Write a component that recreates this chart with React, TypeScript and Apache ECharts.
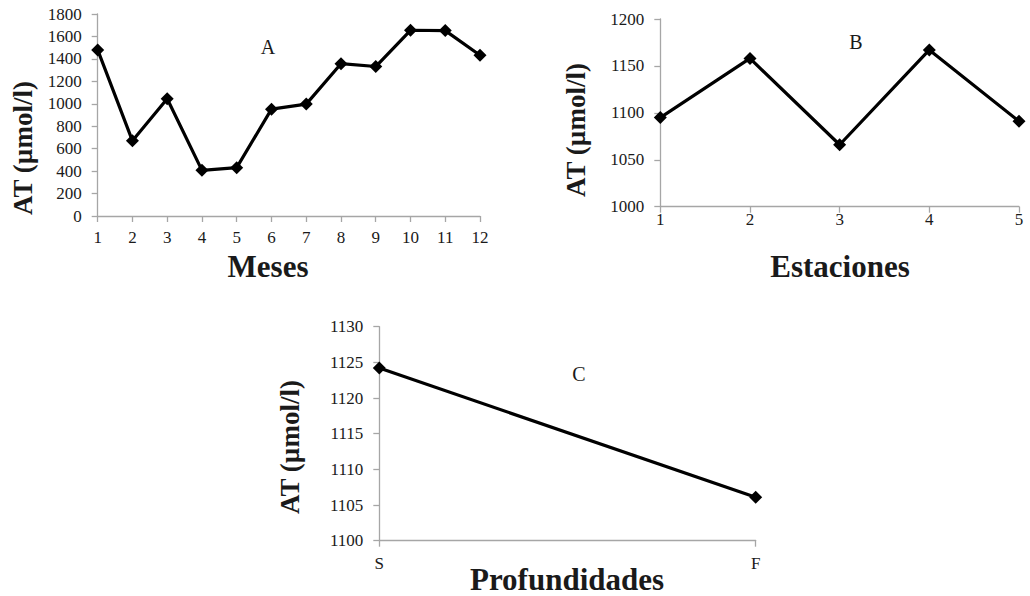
import React, { useEffect, useRef } from "react";
import * as echarts from "echarts";

const mesesCats = ["1", "2", "3", "4", "5", "6", "7", "8", "9", "10", "11", "12"];
const mesesVals = [1480, 670, 1045, 407, 431, 952, 997, 1357, 1332, 1655, 1652, 1432];

const estCats = ["1", "2", "3", "4", "5"];
const estVals = [1095, 1158, 1066, 1167, 1091];

const profCats = ["S", "F"];
const profVals = [1124.2, 1106.1];

const yTitle = "AT (µmol/l)";
const FONT = "'Liberation Serif', 'Times New Roman', serif";
const AXIS_COLOR = "#a6a6a6";
const TEXT_COLOR = "#1a1a1a";

function makeAxes(idx: number, cats: string[], min: number, max: number, interval: number, xMargin: number) {
  const x = {
    type: "category",
    gridIndex: idx,
    data: cats,
    boundaryGap: false,
    axisLine: { lineStyle: { color: AXIS_COLOR, width: 1.3 } },
    axisTick: { show: true, alignWithLabel: true, length: 6, lineStyle: { color: AXIS_COLOR, width: 1.3 } },
    axisLabel: { color: TEXT_COLOR, fontFamily: FONT, fontSize: 17, margin: xMargin, interval: 0 },
    splitLine: { show: false },
  };
  const y = {
    type: "value",
    gridIndex: idx,
    min,
    max,
    interval,
    axisLine: { show: true, lineStyle: { color: AXIS_COLOR, width: 1.3 } },
    axisTick: { show: true, length: 6, lineStyle: { color: AXIS_COLOR, width: 1.3 } },
    axisLabel: {
      color: TEXT_COLOR,
      fontFamily: FONT,
      fontSize: 17,
      margin: 16,
      formatter: (v: number) => String(v),
    },
    splitLine: { show: false },
  };
  return { x, y };
}

function lineSeries(idx: number, data: number[]) {
  return {
    type: "line",
    xAxisIndex: idx,
    yAxisIndex: idx,
    data,
    symbol: "diamond",
    symbolSize: 13,
    showAllSymbol: true,
    lineStyle: { color: "#000", width: 3.2 },
    itemStyle: { color: "#000" },
    z: 3,
  };
}

function txt(x: number, y: number, text: string, size: number, bold: boolean, rot = 0) {
  return {
    type: "text",
    x,
    y,
    rotation: rot,
    style: {
      text,
      fill: TEXT_COLOR,
      font: `${bold ? "bold " : ""}${size}px ${FONT}`,
      align: "center",
      verticalAlign: "middle",
    },
  };
}

export default function App() {
  const ref = useRef<HTMLDivElement>(null);
  useEffect(() => {
    if (!ref.current) return;
    const chart = echarts.init(ref.current, undefined, { renderer: "svg" });
    const a = makeAxes(0, mesesCats, 0, 1800, 200, 13);
    const b = makeAxes(1, estCats, 1000, 1200, 50, 4);
    const c = makeAxes(2, profCats, 1100, 1130, 5, 14);
    chart.setOption({
      animation: false,
      backgroundColor: "#ffffff",
      grid: [
        { left: 97.7, top: 14, width: 382.3, height: 202 },
        { left: 660.3, top: 19, width: 358.7, height: 187.7 },
        { left: 379.3, top: 326.7, width: 376.4, height: 214 },
      ],
      xAxis: [a.x, b.x, c.x],
      yAxis: [a.y, b.y, c.y],
      series: [lineSeries(0, mesesVals), lineSeries(1, estVals), lineSeries(2, profVals)],
      graphic: [
        txt(268, 47, "A", 20, false),
        txt(856, 42, "B", 20, false),
        txt(579, 374, "C", 20, false),
        txt(268, 266, "Meses", 31, true),
        txt(840, 266, "Estaciones", 31, true),
        txt(567, 579, "Profundidades", 31, true),
        txt(23, 148, yTitle, 27, true, Math.PI / 2),
        txt(576, 130, yTitle, 27, true, Math.PI / 2),
        txt(290, 447, yTitle, 27, true, Math.PI / 2),
      ],
    });
    return () => chart.dispose();
  }, []);
  return (
    <div
      ref={ref}
      style={{ position: "absolute", left: 0, top: 0, width: 1030, height: 596, background: "#fff" }}
    />
  );
}
